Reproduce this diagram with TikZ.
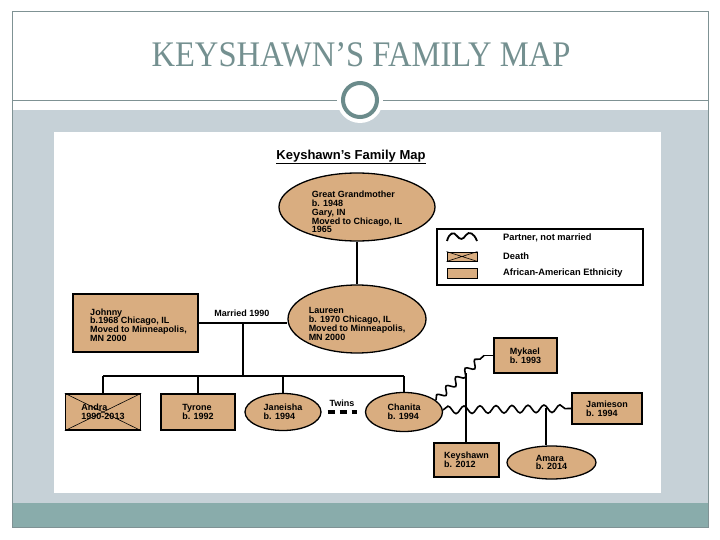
\documentclass[tikz,border=0pt]{standalone}
\usepackage{fontspec}
\setmainfont{Liberation Sans}
\newfontfamily\titlefont{Liberation Serif}
\usetikzlibrary{shapes.geometric,decorations.pathmorphing}
\definecolor{famtan}{HTML}{D9AD80}
\definecolor{slidegray}{HTML}{C6D1D7}
\definecolor{slideteal}{HTML}{89ACAB}
\definecolor{framegray}{HTML}{7F9294}
\definecolor{ringteal}{HTML}{6B8B8B}
\definecolor{titlecol}{HTML}{749090}
\begin{document}
\begin{tikzpicture}[x=1pt,y=-1pt,
  txt/.style={font=\bfseries\fontsize{9}{8.8}\selectfont},
  lbl/.style={txt, align=left, inner sep=0pt},
  person/.style={draw=black, line width=1.3pt, fill=famtan, inner sep=0pt, txt, align=left},
  pbox/.style={person, rectangle},
  pell/.style={person, ellipse},
  link/.style={draw=black, line width=1.8pt},
  partner/.style={draw=black, line width=1.6pt, decorate,
    decoration={snake, amplitude=3.8pt, segment length=16pt}}]
\useasboundingbox (0,0) rectangle (720,540);
% slide background
\fill[white] (0,0) rectangle (720,540);
\fill[slidegray] (12,110) rectangle (708,503);
\fill[slideteal] (12,503) rectangle (708,527);
\draw[framegray, line width=1pt] (12,12) rectangle (708,527);
\draw[framegray, line width=1pt] (12,101) -- (708,101);
\fill[white] (360,100) circle (23);
\draw[ringteal, line width=4pt] (360,100) circle (17);
\node[titlecol, font=\titlefont\fontsize{36}{36}\selectfont, inner sep=0pt] (title) at (361,55) {\scalebox{0.905}[1]{KEYSHAWN’S FAMILY MAP}};
% picture area
\fill[white] (54,132) rectangle (661,493);
\node[font=\bfseries\fontsize{13}{13}\selectfont, inner sep=0pt] (maptitle) at (351,157) {\underline{Keyshawn's Family Map}};
% legend
\node[draw=black, line width=1.2pt, fill=white, minimum width=206, minimum height=56, inner sep=0pt] (legend) at (540,257) {};
\draw[black, line width=1.8pt] (447,241) .. controls (449,233) and (454,231) .. (457,236)
  .. controls (460,240) and (463,240) .. (466,235) .. controls (469,231) and (474,233) .. (477,241);
\node[pbox, minimum width=30, minimum height=9, line width=0.9pt] (ldeath) at (462,256.5) {};
\draw[black, line width=0.6pt] (ldeath.north west) -- (ldeath.south east) (ldeath.south west) -- (ldeath.north east);
\node[pbox, minimum width=30, minimum height=10, line width=0.9pt] (leth) at (462,273) {};
\node[lbl, anchor=west, font=\bfseries\fontsize{9.3}{9}\selectfont] (t1) at (503,238) {Partner, not married};
\node[lbl, anchor=west, font=\bfseries\fontsize{9.3}{9}\selectfont] (t2) at (503,256) {Death};
\node[lbl, anchor=west, font=\bfseries\fontsize{9.3}{9}\selectfont] (t3) at (503,273) {African-American Ethnicity};
% people
\node[pell, minimum width=156, minimum height=68,
  label={[lbl, yshift=-5pt]center:Great Grandmother\\b. 1948\\Gary, IN\\Moved to Chicago, IL\\1965}] (gg) at (357,207) {};
\node[pbox, minimum width=125, minimum height=58,
  label={[lbl, yshift=-2pt, xshift=3pt]center:Johnny\\b.1968 Chicago, IL\\Moved to Minneapolis,\\MN 2000}] (johnny) at (135.5,323) {};
\node[pell, minimum width=138, minimum height=68,
  label={[lbl, yshift=-5pt]center:Laureen\\b. 1970 Chicago, IL\\Moved to Minneapolis,\\MN 2000}] (laureen) at (357,319) {};
\node[pbox, minimum width=75, minimum height=36] (andra) at (103,412) {Andra\\1990-2013};
\draw[black, line width=0.6pt] (andra.north west) -- (andra.south east) (andra.south west) -- (andra.north east);
\node[pbox, minimum width=74, minimum height=36] (tyrone) at (198,412) {Tyrone\\b. 1992};
\node[pell, minimum width=76, minimum height=37] (janeisha) at (283,412) {Janeisha\\b. 1994};
\node[pell, minimum width=77, minimum height=39] (chanita) at (404,412) {Chanita\\b. 1994};
\node[pbox, minimum width=63, minimum height=35] (mykael) at (525.5,355.5) {Mykael\\b. 1993};
\node[pbox, minimum width=70, minimum height=31] (jamieson) at (607,408.5) {Jamieson\\b. 1994};
\node[pbox, minimum width=65, minimum height=34] (keyshawn) at (466.5,460) {Keyshawn\\b. 2012};
\node[pell, minimum width=89, minimum height=33] (amara) at (551.5,462.5) {Amara\\b. 2014};
% connectors
\draw[link] (gg.south) -- (laureen.north);
\draw[link] (johnny.east) -- (johnny.east -| laureen.west);
\node[lbl] (married) at (242,313) {Married 1990};
\coordinate (m) at (243,323);
\coordinate (sib) at (243,376);
\draw[link] (m) -- (sib);
\draw[link] (sib -| andra.north) -- (sib -| chanita.north);
\foreach \c in {andra,tyrone,janeisha,chanita}
  \draw[link] (sib -| \c.north) -- (\c.north);
\draw[black, line width=3.5pt, dash pattern=on 7pt off 5pt] ([xshift=6pt]janeisha.east) -- ([xshift=-8pt]chanita.west);
\node[lbl] (twins) at (342,403) {Twins};
% partner lines
\coordinate (w1s) at (436,400);
\coordinate (w1e) at (484,355.5);
\draw[partner, decoration={segment length=13pt, amplitude=3.5pt}] (w1s) -- (w1e);
\draw[link, line width=1.6pt] (w1e) -- (mykael.west);
\coordinate (k1) at (466,373);
\draw[link] (k1) -- (keyshawn.north -| k1);
\coordinate (w2s) at (443,410);
\draw[partner] (w2s) -- (jamieson.west);
\coordinate (a1) at (546,408);
\draw[link] (a1) -- (amara.north -| a1);
\end{tikzpicture}
\end{document}
